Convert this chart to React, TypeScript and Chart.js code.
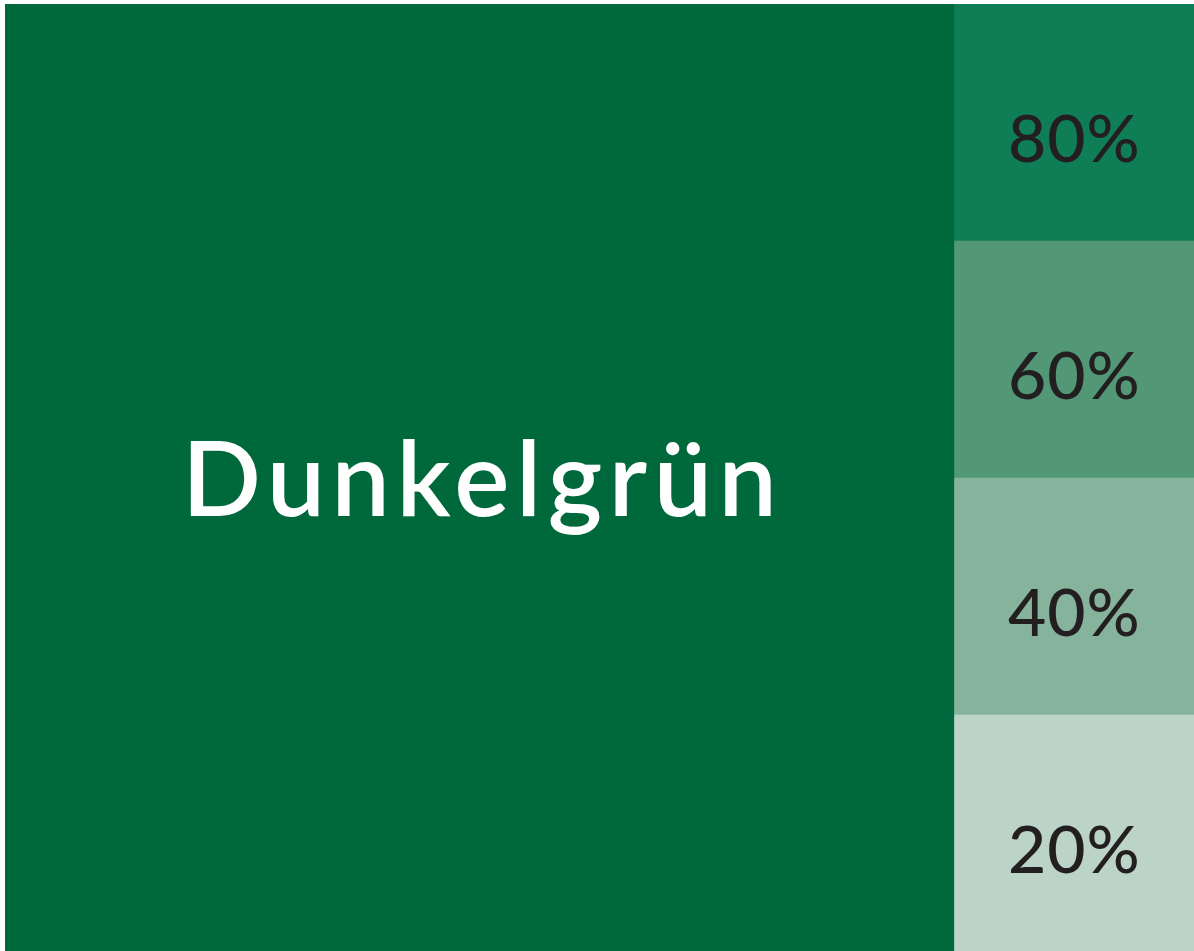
import React, { useEffect, useRef } from "react";
import { Chart, registerables } from "chart.js";

Chart.register(...registerables);

// Data
const baseName = "Dunkelgrün";
const baseColor = "#00693C";
const baseShare = 79.8; // share of width taken by the base colour block (%)
const tintLabels = ["80%", "60%", "40%", "20%"];
const tintColors = ["#0F7E57", "#529776", "#86B39C", "#BCD4C8"];

const labelPlugin = {
  id: "swatchLabels",
  afterDatasetsDraw(chart: any) {
    const ctx = chart.ctx;
    const baseMeta = chart.getDatasetMeta(0);
    const tintMeta = chart.getDatasetMeta(1);
    ctx.save();
    ctx.textAlign = "center";
    ctx.textBaseline = "alphabetic";
    // base label
    const els = baseMeta.data;
    if (els.length) {
      const first = els[0];
      const last = els[els.length - 1];
      const cx = (first.x + first.base) / 2;
      const cy = (first.y + last.y) / 2 + 38;
      ctx.fillStyle = "#FFFFFF";
      ctx.font = "600 104px Lato, 'Open Sans', sans-serif";
      (ctx as any).letterSpacing = "6.5px";
      ctx.fillText(baseName, cx + 3.25, cy);
    }
    // tint labels
    ctx.fillStyle = "#231F20";
    ctx.font = "500 66px Lato, 'Open Sans', sans-serif";
    (ctx as any).letterSpacing = "1px";
    tintMeta.data.forEach((el: any, i: number) => {
      const cx = (el.x + el.base) / 2;
      const cy = el.y + 39;
      ctx.fillText(tintLabels[i], cx + 0.5, cy);
    });
    (ctx as any).letterSpacing = "0px";
    ctx.restore();
  },
};

export default function App() {
  const canvasRef = useRef<HTMLCanvasElement | null>(null);

  useEffect(() => {
    document.body.style.overflow = "hidden";
    const canvas = canvasRef.current;
    if (!canvas) return;
    const chart = new Chart(canvas, {
      type: "bar",
      data: {
        labels: tintLabels,
        datasets: [
          {
            label: baseName,
            data: tintLabels.map(() => [0, baseShare]) as any,
            backgroundColor: baseColor,
            borderWidth: 0,
            grouped: false,
            barPercentage: 1,
            categoryPercentage: 1,
          } as any,
          {
            label: "Tints",
            data: tintLabels.map(() => [baseShare, 100]) as any,
            backgroundColor: tintColors,
            borderWidth: 0,
            grouped: false,
            barPercentage: 1,
            categoryPercentage: 1,
          } as any,
        ],
      },
      options: {
        indexAxis: "y",
        responsive: false,
        animation: false,
        layout: { padding: 0 },
        plugins: {
          legend: { display: false },
          tooltip: { enabled: false },
          title: { display: false },
        },
        scales: {
          x: { type: "linear", min: 0, max: 100, display: false },
          y: { type: "category", display: false },
        },
      },
      plugins: [labelPlugin],
    });
    return () => chart.destroy();
  }, []);

  return (
    <div style={{ position: "fixed", left: 5, top: 4, width: 1189, height: 948 }}>
      <canvas ref={canvasRef} width={1189} height={948} style={{ display: "block", width: 1189, height: 948 }} />
    </div>
  );
}
